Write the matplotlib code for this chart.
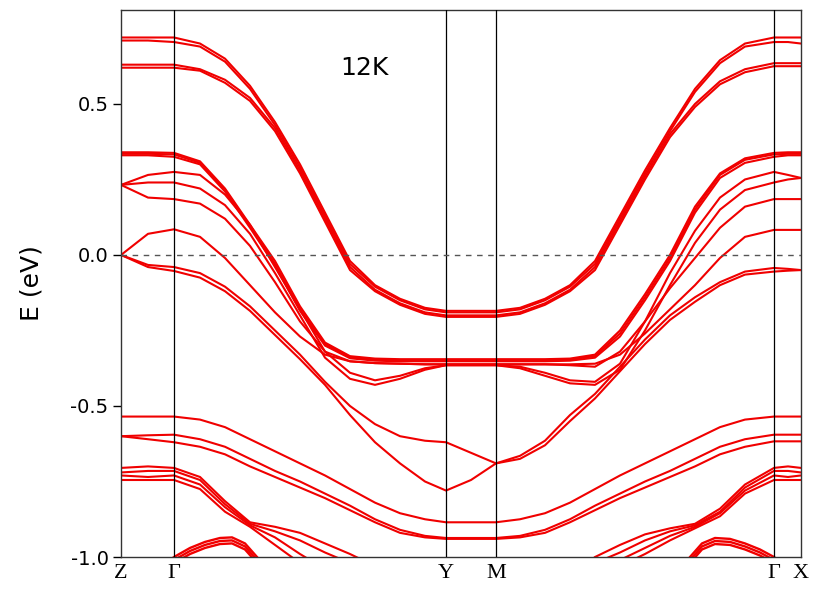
import matplotlib
matplotlib.use('Agg')
import matplotlib.pyplot as plt
import numpy as np

# k-path: high symmetry points and their positions
sym_labels = ['Z', 'Γ', 'Y', 'M', 'Γ', 'X']
sym_k = [0.00, 0.53, 3.25, 3.75, 6.53, 6.80]

# sampling points along the path
k = [0.00, 0.27, 0.53, 0.79, 1.04, 1.29, 1.54, 1.79, 2.04, 2.29, 2.54, 2.79, 3.04, 3.25,
     3.50, 3.75, 3.99, 4.24, 4.49, 4.74, 4.99, 5.24, 5.49, 5.74, 5.99, 6.24, 6.53, 6.67, 6.80]

nan = np.nan

# upper (conduction) bands
T1 = [0.72, 0.72, 0.72, 0.70, 0.65, 0.56, 0.44, 0.30, 0.14, -0.02, -0.10, -0.145, -0.175, -0.185,
      -0.185, -0.185, -0.175, -0.145, -0.10, -0.02, 0.13, 0.28, 0.42, 0.55, 0.645, 0.70, 0.72, 0.72, 0.72]
T2 = [0.71, 0.71, 0.705, 0.69, 0.64, 0.55, 0.43, 0.29, 0.13, -0.03, -0.105, -0.15, -0.18, -0.19,
      -0.19, -0.19, -0.18, -0.15, -0.105, -0.03, 0.12, 0.27, 0.41, 0.54, 0.635, 0.69, 0.705, 0.705, 0.70]
T3 = [0.63, 0.63, 0.63, 0.615, 0.58, 0.52, 0.42, 0.28, 0.12, -0.04, -0.115, -0.16, -0.19, -0.20,
      -0.20, -0.20, -0.19, -0.16, -0.115, -0.04, 0.11, 0.26, 0.40, 0.50, 0.575, 0.615, 0.635, 0.635, 0.635]
T4 = [0.62, 0.62, 0.62, 0.61, 0.57, 0.51, 0.41, 0.27, 0.11, -0.05, -0.12, -0.165, -0.195, -0.205,
      -0.205, -0.205, -0.195, -0.165, -0.12, -0.05, 0.10, 0.25, 0.39, 0.49, 0.565, 0.605, 0.625, 0.625, 0.625]

# bands around the Fermi level
V1 = [0.34, 0.34, 0.338, 0.31, 0.22, 0.10, -0.02, -0.17, -0.29, -0.335, -0.343, -0.345, -0.345, -0.345,
      -0.345, -0.345, -0.345, -0.345, -0.343, -0.33, -0.25, -0.13, 0.0, 0.16, 0.27, 0.32, 0.338, 0.34, 0.34]
V2 = [0.335, 0.335, 0.333, 0.305, 0.215, 0.095, -0.03, -0.18, -0.295, -0.338, -0.346, -0.348, -0.348, -0.348,
      -0.348, -0.348, -0.348, -0.348, -0.346, -0.335, -0.26, -0.14, -0.01, 0.15, 0.265, 0.315, 0.333, 0.335, 0.335]
V3 = [0.33, 0.33, 0.325, 0.30, 0.21, 0.09, -0.035, -0.185, -0.30, -0.342, -0.35, -0.352, -0.352, -0.352,
      -0.352, -0.352, -0.352, -0.352, -0.35, -0.34, -0.27, -0.15, -0.02, 0.14, 0.255, 0.305, 0.325, 0.33, 0.33]
V4 = [0.232, 0.265, 0.275, 0.265, 0.20, 0.10, -0.04, -0.18, -0.32, -0.39, -0.415, -0.40, -0.375, -0.365,
      -0.365, -0.365, -0.37, -0.39, -0.415, -0.42, -0.36, -0.22, -0.06, 0.08, 0.19, 0.25, 0.275, 0.265, 0.255]
V5 = [0.232, 0.24, 0.24, 0.22, 0.165, 0.07, -0.06, -0.20, -0.34, -0.41, -0.43, -0.41, -0.38, -0.365,
      -0.365, -0.365, -0.375, -0.40, -0.425, -0.43, -0.38, -0.25, -0.10, 0.04, 0.15, 0.215, 0.24, 0.25, 0.255]
V6 = [0.232, 0.19, 0.185, 0.17, 0.12, 0.03, -0.09, -0.22, -0.32, -0.352, -0.358, -0.36, -0.362, -0.362,
      -0.362, -0.362, -0.362, -0.362, -0.365, -0.37, -0.32, -0.22, -0.11, -0.01, 0.09, 0.16, 0.185, 0.185, 0.185]
V7 = [0.0, 0.07, 0.085, 0.06, -0.01, -0.10, -0.19, -0.27, -0.33, -0.352, -0.358, -0.36, -0.362, -0.362,
      -0.362, -0.362, -0.362, -0.362, -0.362, -0.36, -0.33, -0.26, -0.18, -0.10, -0.01, 0.06, 0.083, 0.083, 0.083]
V8 = [0.0, -0.033, -0.04, -0.06, -0.105, -0.17, -0.25, -0.33, -0.42, -0.50, -0.56, -0.60, -0.615, -0.62,
      -0.655, -0.69, -0.665, -0.615, -0.53, -0.46, -0.37, -0.28, -0.20, -0.14, -0.09, -0.055, -0.043, -0.046, -0.05]
V9 = [0.0, -0.04, -0.053, -0.075, -0.12, -0.185, -0.265, -0.345, -0.43, -0.53, -0.62, -0.69, -0.75, -0.78,
      -0.745, -0.69, -0.675, -0.63, -0.55, -0.475, -0.385, -0.295, -0.215, -0.155, -0.10, -0.065, -0.055, -0.052, -0.05]

# lower bands
L1 = [-0.535, -0.535, -0.535, -0.545, -0.57, -0.61, -0.65, -0.69, -0.73, -0.775, -0.82, -0.855, -0.875, -0.885,
      -0.885, -0.885, -0.875, -0.855, -0.82, -0.775, -0.73, -0.69, -0.65, -0.61, -0.57, -0.545, -0.535, -0.535, -0.535]
L2 = [-0.60, -0.597, -0.595, -0.61, -0.635, -0.675, -0.715, -0.75, -0.79, -0.83, -0.875, -0.91, -0.93, -0.937,
      -0.937, -0.937, -0.93, -0.91, -0.875, -0.83, -0.79, -0.75, -0.715, -0.675, -0.635, -0.61, -0.595, -0.595, -0.595]
L3 = [-0.60, -0.61, -0.62, -0.635, -0.66, -0.70, -0.735, -0.77, -0.805, -0.845, -0.885, -0.92, -0.935, -0.94,
      -0.94, -0.94, -0.935, -0.92, -0.885, -0.845, -0.805, -0.77, -0.735, -0.70, -0.66, -0.635, -0.617, -0.617, -0.617]
LT1 = [-0.705, -0.70, -0.705, -0.735, -0.815, -0.885, -0.90, -0.92, -0.955, -0.99, -1.03, nan, nan, nan,
       nan, nan, nan, nan, nan, -1.0, -0.96, -0.925, -0.905, -0.89, -0.84, -0.76, -0.705, -0.70, -0.705]
LT2 = [-0.72, -0.715, -0.715, -0.745, -0.825, -0.89, -0.915, -0.945, -0.985, -1.02, nan, nan, nan, nan,
       nan, nan, nan, nan, nan, -1.02, -0.985, -0.945, -0.915, -0.895, -0.85, -0.77, -0.715, -0.715, -0.72]
LT3 = [-0.73, -0.735, -0.73, -0.76, -0.835, -0.895, -0.935, -0.99, -1.04, nan, nan, nan, nan, nan,
       nan, nan, nan, nan, nan, nan, -1.01, -0.97, -0.93, -0.90, -0.855, -0.78, -0.73, -0.735, -0.73]
LT4 = [-0.745, -0.745, -0.745, -0.775, -0.85, -0.90, -0.96, -1.02, nan, nan, nan, nan, nan, nan,
       nan, nan, nan, nan, nan, nan, -1.03, -0.99, -0.945, -0.905, -0.865, -0.79, -0.745, -0.745, -0.745]

# small dome-shaped bands at the bottom, near both Gamma points
dome_left_k = [0.53, 0.69, 0.84, 0.99, 1.11, 1.24, 1.36, 1.44]
dome_left = [[-1.0, -0.97, -0.95, -0.937, -0.935, -0.955, -1.0, -1.03],
             [-1.01, -0.98, -0.96, -0.947, -0.945, -0.965, -1.01, -1.04],
             [-1.02, -0.99, -0.97, -0.957, -0.955, -0.975, -1.02, -1.05]]
dome_right_k = [5.62, 5.69, 5.81, 5.94, 6.09, 6.24, 6.39, 6.53]
dome_right = [[-1.03, -1.0, -0.955, -0.937, -0.94, -0.955, -0.975, -1.0],
              [-1.04, -1.01, -0.965, -0.947, -0.95, -0.965, -0.985, -1.01],
              [-1.05, -1.02, -0.975, -0.957, -0.96, -0.975, -0.995, -1.02]]

bands = [T1, T2, T3, T4, V1, V2, V3, V4, V5, V6, V7, V8, V9, L1, L2, L3, LT1, LT2, LT3, LT4]

fig = plt.figure(figsize=(8.16, 5.89), dpi=100)
ax = fig.add_axes([0.1483, 0.0543, 0.8333, 0.9287])

band_color = '#f00000'
for b in bands:
    ax.plot(k, b, color=band_color, lw=1.5, solid_joinstyle='round')
for d in dome_left:
    ax.plot(dome_left_k, d, color=band_color, lw=1.7)
for d in dome_right:
    ax.plot(dome_right_k, d, color=band_color, lw=1.7)

# high symmetry lines and Fermi level
for kk in sym_k[1:-1]:
    ax.axvline(kk, color='black', lw=0.9, zorder=3)
ax.axhline(0.0, color='#555555', lw=1.0, ls=(0, (4, 4)), zorder=3)

ax.set_xlim(sym_k[0], sym_k[-1])
ax.set_ylim(-1.0, 0.811)

ax.set_yticks([0.5, 0.0, -0.5, -1.0])
ax.set_yticklabels(['0.5', '0.0', '-0.5', '-1.0'], fontsize=14)
ax.tick_params(axis='y', direction='out', length=6, width=1, pad=3)
ax.set_xticks(sym_k)
ax.set_xticklabels(sym_labels, fontsize=16, family='Liberation Serif')
ax.tick_params(axis='x', length=0, pad=5)

for s in ax.spines.values():
    s.set_linewidth(1.0)
    s.set_color('#333333')

ax.set_ylabel('E (eV)', fontsize=18, labelpad=19)
ax.text(2.43, 0.62, '12K', fontsize=18, ha='center', va='center')

fig.savefig('out.png', dpi=100)
